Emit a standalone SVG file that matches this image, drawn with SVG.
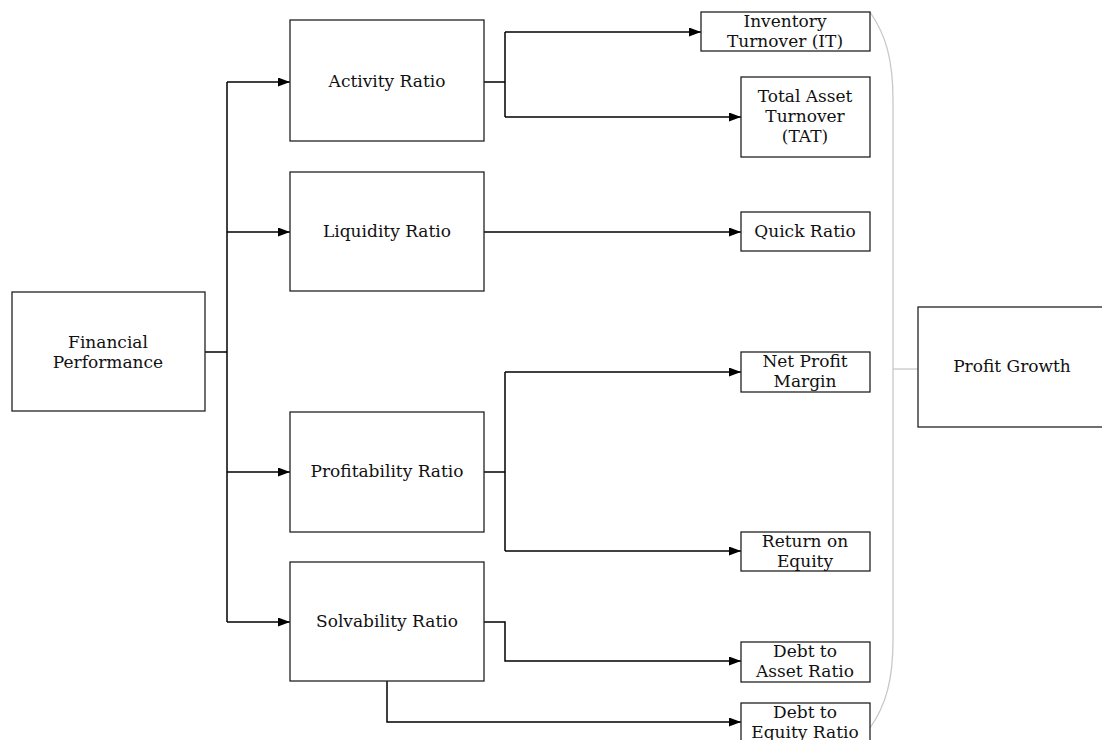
<svg xmlns="http://www.w3.org/2000/svg" width="1102" height="740" viewBox="0 0 1102 740">
<style>
.box{fill:#fff;stroke:#222;stroke-width:1.3}
.t{font-family:"DejaVu Serif","Liberation Serif",serif;font-size:17px;fill:#111;text-anchor:middle}
.c{fill:none;stroke:#000;stroke-width:1.5}
.a{marker-end:url(#arr)}
.g{fill:none;stroke:#c8c8c8;stroke-width:1.3}
</style>
<defs>
<marker id="arr" viewBox="0 0 12 9" refX="12" refY="4.5" markerWidth="12" markerHeight="9" markerUnits="userSpaceOnUse" orient="auto">
<path d="M0,0 L12,4.5 L0,9 Z" fill="#000"/>
</marker>
</defs>
<rect width="1102" height="740" fill="#fff"/>
<g id="connectors">
<path class="c" d="M205,352 H227"/>
<path class="c" d="M227,82 V622"/>
<path class="c a" d="M227,82 H290"/>
<path class="c a" d="M227,232 H290"/>
<path class="c a" d="M227,472 H290"/>
<path class="c a" d="M227,622 H290"/>
<path class="c" d="M484,82 H505 M505,32 V117"/>
<path class="c a" d="M505,32 H701"/>
<path class="c a" d="M505,117 H741"/>
<path class="c a" d="M484,232 H741"/>
<path class="c" d="M484,472 H505 M505,372 V551"/>
<path class="c a" d="M505,372 H741"/>
<path class="c a" d="M505,551 H741"/>
<path class="c a" d="M484,622 H505 V661 H741"/>
<path class="c a" d="M387,681 V722 H741"/>
<path class="g" d="M870,12 C886,35 893,60 893,100 V640 C893,680 886,705 870,728"/>
<path class="g" d="M893,369 H918"/>
</g>
<g id="financial-performance">
<rect class="box" x="12" y="292" width="193" height="119"/>
<text class="t" x="108" y="348">Financial</text>
<text class="t" x="108" y="368">Performance</text>
</g>
<g id="activity-ratio">
<rect class="box" x="290" y="20" width="194" height="121"/>
<text class="t" x="387" y="87">Activity Ratio</text>
</g>
<g id="liquidity-ratio">
<rect class="box" x="290" y="172" width="194" height="119"/>
<text class="t" x="387" y="237">Liquidity Ratio</text>
</g>
<g id="profitability-ratio">
<rect class="box" x="290" y="412" width="194" height="120"/>
<text class="t" x="387" y="477">Profitability Ratio</text>
</g>
<g id="solvability-ratio">
<rect class="box" x="290" y="562" width="194" height="119"/>
<text class="t" x="387" y="627">Solvability Ratio</text>
</g>
<g id="inventory-turnover">
<rect class="box" x="701" y="12" width="169" height="39"/>
<text class="t" x="785" y="27">Inventory</text>
<text class="t" x="785" y="47">Turnover (IT)</text>
</g>
<g id="total-asset-turnover">
<rect class="box" x="741" y="77" width="129" height="80"/>
<text class="t" x="805" y="102">Total Asset</text>
<text class="t" x="805" y="122">Turnover</text>
<text class="t" x="805" y="142">(TAT)</text>
</g>
<g id="quick-ratio">
<rect class="box" x="741" y="212" width="129" height="39"/>
<text class="t" x="805" y="237">Quick Ratio</text>
</g>
<g id="net-profit-margin">
<rect class="box" x="741" y="352" width="129" height="40"/>
<text class="t" x="805" y="367">Net Profit</text>
<text class="t" x="805" y="387">Margin</text>
</g>
<g id="return-on-equity">
<rect class="box" x="741" y="532" width="129" height="39"/>
<text class="t" x="805" y="547">Return on</text>
<text class="t" x="805" y="567">Equity</text>
</g>
<g id="debt-to-asset">
<rect class="box" x="741" y="642" width="129" height="40"/>
<text class="t" x="805" y="657">Debt to</text>
<text class="t" x="805" y="677">Asset Ratio</text>
</g>
<g id="debt-to-equity">
<rect class="box" x="741" y="703" width="129" height="40"/>
<text class="t" x="805" y="718">Debt to</text>
<text class="t" x="805" y="738">Equity Ratio</text>
</g>
<g id="profit-growth">
<rect class="box" x="918" y="307" width="190" height="120"/>
<text class="t" x="1012" y="372">Profit Growth</text>
</g>
</svg>
